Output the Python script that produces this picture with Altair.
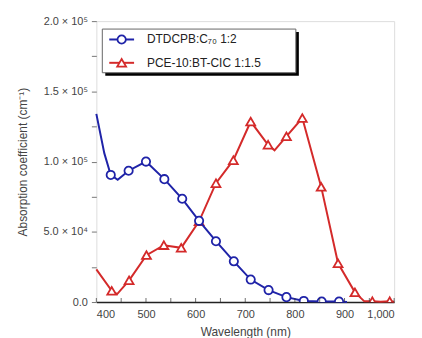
import altair as alt
import pandas as pd

# ---- data ----
# DTDCPB:C70 1:2 (blue, circles)
blue_wl = [400, 416, 429, 443, 465, 500, 537, 573, 607, 641, 677, 711, 747, 783, 818, 854, 889, 905]
blue_val = [134000, 106000, 90500, 87000, 93500, 100000, 87500, 73500, 57800, 43300, 29000, 16000,
            8500, 3500, 800, 400, 400, 0]
blue_marker = [False, False, True, False, True, True, True, True, True, True, True, True,
               True, True, True, True, True, False]

# PCE-10:BT-CIC 1:1.5 (red, triangles)
red_wl = [400, 431, 442, 466, 501, 536, 571, 607, 641, 676, 711, 746, 759, 783, 815, 853, 887,
          921, 940, 956, 973, 991, 1000]
red_val = [23300, 8000, 5700, 15500, 33400, 40500, 38600, 57500, 84600, 101000, 128500, 112000,
           108000, 118000, 131000, 82000, 27600, 6900, 500, 600, 200, 600, 200]
red_marker = [False, True, False, True, True, True, True, True, True, True, True, True,
              False, True, True, True, True, True, False, True, False, True, False]

series_names = ["DTDCPB:C₇₀ 1:2", "PCE-10:BT-CIC 1:1.5"]
series_colors = ["#1f23a8", "#d42a2a"]

x_ticks = [400, 450, 500, 550, 600, 650, 700, 750, 800, 850, 900, 950, 1000]
x_labels = [400, 500, 600, 700, 800, 900, 1000]
y_ticks = [0, 25000, 50000, 75000, 100000, 125000, 150000, 175000, 200000]
y_label_vals = [200000, 150000, 100000, 50000, 0]
y_label_txt = ["2.0 × 10⁵", "1.5 × 10⁵", "1.0 × 10⁵", "5.0 × 10⁴", "0.0"]

FONT = "Liberation Sans"

blue_df = pd.DataFrame({"wl": blue_wl, "val": blue_val, "m": blue_marker})
red_df = pd.DataFrame({"wl": red_wl, "val": red_val, "m": red_marker})
tick_df = pd.DataFrame({"wl": x_ticks})
one = pd.DataFrame({"a": [0]})

label_expr = " : ".join(
    f"datum.value == {v} ? '{t}'" for v, t in zip(y_label_vals, y_label_txt)
) + " : ''"

x_scale = alt.Scale(domain=[400, 1000], nice=False, zero=False)
y_scale = alt.Scale(domain=[0, 200000], nice=False)

x_axis = alt.Axis(values=x_labels, ticks=False, grid=False, domainColor="#222", domainWidth=1.5,
                  labelFont=FONT, labelFontSize=11, labelColor="#444", labelPadding=7,
                  title="Wavelength (nm)", titleFont=FONT, titleFontSize=12,
                  titleFontWeight="normal", titleColor="#444", titlePadding=7)
y_axis = alt.Axis(values=y_ticks, labelExpr=label_expr, grid=False, domain=False,
                  tickSize=5, tickColor="#777", labelFont=FONT, labelFontSize=11,
                  labelColor="#444", labelPadding=4,
                  title="Absorption coefficient (cm⁻¹)", titleFont=FONT, titleFontSize=12,
                  titleFontWeight="normal", titleColor="#444", titlePadding=14)

X = alt.X("wl:Q", scale=x_scale, axis=x_axis)
Y = alt.Y("val:Q", scale=y_scale, axis=y_axis)

red_line = alt.Chart(red_df).mark_line(color=series_colors[1], strokeWidth=2).encode(x=X, y=Y)
red_pts = alt.Chart(red_df).transform_filter("datum.m").mark_point(
    shape="triangle-up", size=80, filled=True, fill="white", stroke=series_colors[1],
    strokeWidth=1.8, opacity=1, clip=True).encode(x=X, y=Y)
blue_line = alt.Chart(blue_df).mark_line(color=series_colors[0], strokeWidth=2).encode(x=X, y=Y)
blue_pts = alt.Chart(blue_df).transform_filter("datum.m").mark_point(
    shape="circle", size=70, filled=True, fill="white", stroke=series_colors[0],
    strokeWidth=1.8, opacity=1, clip=True).encode(x=X, y=Y)

x_ticks_layer = alt.Chart(tick_df).mark_tick(orient="vertical", size=4, thickness=1,
                                              color="#333").encode(x=X, y=alt.value(281))

# legend box (decoration)
shadow = alt.Chart(one).mark_rect(color="black").encode(
    x=alt.value(9), x2=alt.value(204), y=alt.value(11), y2=alt.value(55))
box = alt.Chart(one).mark_rect(fill="white", stroke="#666", strokeWidth=1).encode(
    x=alt.value(6), x2=alt.value(201), y=alt.value(8), y2=alt.value(52))

leg_layers = []
for i, (name, col, shp) in enumerate(zip(series_names, series_colors, ["circle", "triangle-up"])):
    yy = 18.5 + i * 23.5
    leg_layers.append(alt.Chart(one).mark_rule(color=col, strokeWidth=2).encode(
        x=alt.value(13), x2=alt.value(38), y=alt.value(yy)))
    leg_layers.append(alt.Chart(one).mark_point(
        shape=shp, size=70 if shp == "circle" else 80, filled=True, fill="white", stroke=col,
        strokeWidth=1.8, opacity=1).encode(x=alt.value(25.5), y=alt.value(yy)))
    leg_layers.append(alt.Chart(one).mark_text(
        text=name, align="left", baseline="middle", font=FONT, fontSize=12,
        color="#222").encode(x=alt.value(51), y=alt.value(yy)))

chart = alt.layer(
    red_line, red_pts, blue_line, blue_pts, x_ticks_layer, shadow, box, *leg_layers
).properties(
    width=300, height=283,
    padding={"left": 89, "top": 12, "right": 20, "bottom": 35},
    autosize=alt.AutoSizeParams(type="none"),
).configure_view(stroke="#8c8c8c", strokeWidth=1.5).configure(background="white")

chart.save("out.html", embed_options={"renderer": "svg", "actions": False})
